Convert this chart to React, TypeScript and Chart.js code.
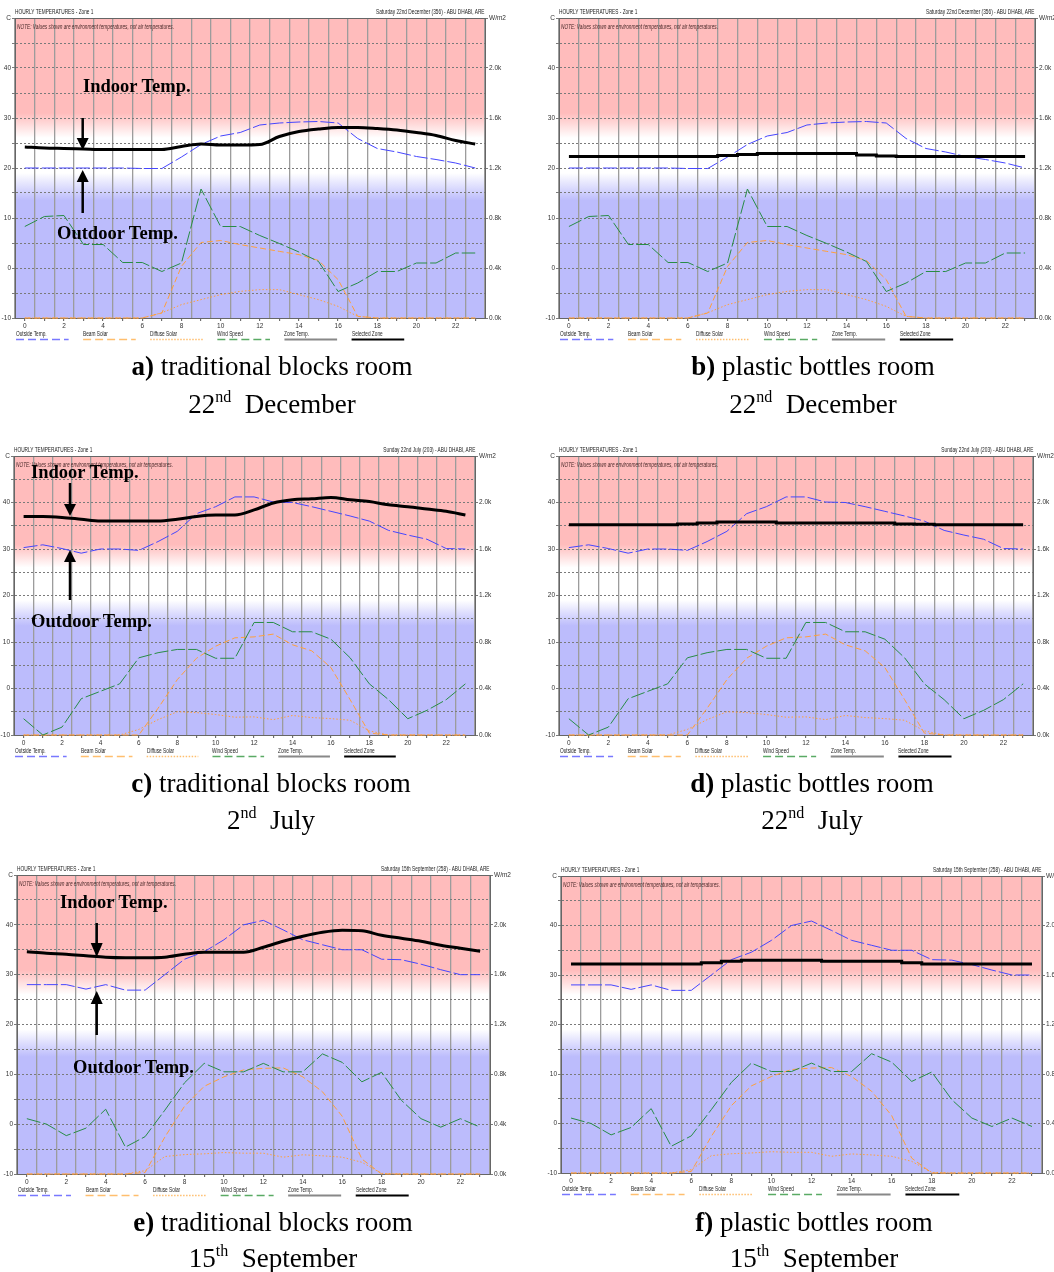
import React, { useEffect, useRef } from 'react';
import { Chart, registerables } from 'chart.js';

Chart.register(...registerables);

// ---------------- data ----------------
const HOURS = [0, 1, 2, 3, 4, 5, 6, 7, 8, 9, 10, 11, 12, 13, 14, 15, 16, 17, 18, 19, 20, 21, 22, 23];
const X_TICK_HOURS = [0, 2, 4, 6, 8, 10, 12, 14, 16, 18, 20, 22];
const TEMP_TICKS = [-10, 0, 10, 20, 30, 40];
const TEMP_UNIT = 'C';
const SOLAR_TICKS = [0, 400, 800, 1200, 1600, 2000];
const SOLAR_UNIT = 'W/m2';
const LEGEND_LABELS = ['Outside Temp.', 'Beam Solar', 'Diffuse Solar', 'Wind Speed', 'Zone Temp.', 'Selected Zone'];
const TITLE = 'HOURLY TEMPERATURES - Zone 1';
const NOTE = 'NOTE: Values shown are environment temperatures, not air temperatures.';

// 22nd December
const DEC_OUTSIDE = [20, 20, 20, 20, 20, 20, 19.9, 19.9, 22.2, 24.7, 26.4, 27.1, 28.6, 29, 29.2, 29.3, 29, 25.9, 23.9, 23.2, 22.3, 21.7, 21, 20];
const DEC_WIND = [8.3, 10.3, 10.5, 4.7, 4.7, 1.1, 1.1, -0.7, 1, 15.8, 8.3, 8.3, 6.5, 4.9, 3.2, 1.3, -4.7, -3, -0.7, -0.7, 1, 1, 3, 3];
const DEC_BEAM = [0, 0, 0, 0, 0, 0, 0, 40, 413, 604, 620, 587, 560, 533, 507, 460, 307, 13, 0, 0, 0, 0, 0, 0];
const DEC_DIFFUSE = [0, 0, 0, 0, 0, 0, 0, 42, 107, 147, 187, 213, 227, 227, 187, 147, 93, 13, 0, 0, 0, 0, 0, 0];
const DEC_ZONE_BLOCKS = [24.2, 24.0, 23.9, 23.8, 23.7, 23.7, 23.7, 23.7, 24.3, 24.8, 24.6, 24.6, 24.7, 26.3, 27.3, 27.8, 28.1, 28.1, 27.9, 27.6, 27.1, 26.5, 25.5, 24.8];
const DEC_ZONE_BOTTLES = [22.3, 22.3, 22.3, 22.3, 22.3, 22.3, 22.3, 22.3, 22.5, 22.7, 22.9, 22.9, 22.9, 22.9, 22.9, 22.6, 22.4, 22.3, 22.3, 22.3, 22.3, 22.3, 22.3, 22.3];

// 22nd July
const JUL_OUTSIDE = [30.3, 30.9, 30.1, 29.1, 30, 30, 29.7, 31.6, 33.8, 37.6, 39.1, 41.2, 41.2, 40.1, 40, 39.1, 38.1, 37.1, 36, 34, 33, 32.1, 30.1, 30];
const JUL_WIND = [-6.5, -10, -8.3, -2.2, -0.6, 1, 6.6, 7.7, 8.4, 8.4, 6.5, 6.5, 14.2, 14.2, 12.2, 12.2, 10.6, 6.6, 1, -2.4, -6.5, -4.7, -2.4, 1];
const JUL_BEAM = [0, 0, 0, 0, 0, 0, 0, 230, 476, 660, 764, 836, 844, 868, 776, 724, 580, 304, 16, 0, 0, 0, 0, 0];
const JUL_DIFFUSE = [0, 0, 0, 0, 0, 0, 48, 132, 200, 193, 176, 153, 156, 132, 168, 150, 141, 127, 35, 0, 0, 0, 0, 0];
const JUL_ZONE_BLOCKS = [37, 37, 36.8, 36.4, 36, 36, 36, 36, 36.4, 37, 37.3, 37.3, 38.4, 39.9, 40.6, 40.8, 41.1, 40.6, 40.2, 39.5, 39.1, 38.6, 38.1, 37.3];
const JUL_ZONE_BOTTLES = [35.2, 35.2, 35.2, 35.2, 35.2, 35.2, 35.4, 35.6, 35.8, 35.8, 35.8, 35.6, 35.6, 35.6, 35.6, 35.6, 35.6, 35.4, 35.3, 35.2, 35.2, 35.2, 35.2, 35.2];

// 15th September
const SEP_OUTSIDE = [28, 28, 28, 27.1, 28, 26.9, 26.9, 30, 33.1, 34.6, 37, 40, 40.9, 39, 37, 36, 35, 35, 33.1, 33, 32.1, 31, 30, 30];
const SEP_WIND = [1.1, 0, -2.3, -0.8, 3, -4.6, -2.5, 2.8, 8.3, 12.2, 10.5, 10.5, 12.2, 10.5, 10.5, 14.1, 12.4, 8.5, 10.4, 4.8, 1.1, -0.6, 1.1, -0.6];
const SEP_BEAM = [0, 0, 0, 0, 0, 0, 12, 296, 544, 704, 780, 836, 848, 852, 780, 660, 464, 120, 0, 0, 0, 0, 0, 0];
const SEP_DIFFUSE = [0, 0, 0, 0, 0, 0, 27, 140, 156, 162, 172, 167, 167, 135, 154, 146, 135, 94, 5, 0, 0, 0, 0, 0];
const SEP_ZONE_BLOCKS = [34.6, 34.3, 34.1, 33.8, 33.5, 33.4, 33.4, 33.5, 34.1, 34.5, 34.5, 34.5, 35.5, 36.7, 37.7, 38.5, 38.9, 38.8, 37.9, 37.3, 36.7, 35.9, 35.3, 34.7];
const SEP_ZONE_BOTTLES = [32.2, 32.2, 32.2, 32.2, 32.2, 32.2, 32.2, 32.5, 32.8, 33, 33, 33, 33, 32.8, 32.8, 32.8, 32.8, 32.5, 32.2, 32.2, 32.2, 32.2, 32.2, 32.2];

// ---------------- styling ----------------
const YW = 14; // left axis width
const Y2W = 30; // right axis width
const PT = 14; // top padding
const XH = 14; // x axis height
const PINK = 'rgb(255,188,188)';
const LAV = 'rgb(188,188,252)';
const OUT_C = 'rgb(70,70,255)';
const WIND_C = 'rgb(40,140,70)';
const SUN_C = 'rgb(255,160,60)';
const TICK_FONT = { family: "'Liberation Sans Narrow','Liberation Sans',Arial,sans-serif", size: 6.5 };
const X_GRID_TICKS: number[] = [];
for (let v = -0.5; v <= 23.5; v += 0.5) X_GRID_TICKS.push(v);

const PANELS = [
  {
    id: 'a', L: 15, T: 18, R: 485, B: 318, date: 'Saturday 22nd December (356) - ABU DHABI, ARE',
    outside: DEC_OUTSIDE, wind: DEC_WIND, beam: DEC_BEAM, diffuse: DEC_DIFFUSE, zone: DEC_ZONE_BLOCKS, stepped: false,
    letter: 'a)', room: ' traditional blocks room', dayNum: '22', daySup: 'nd', month: 'December',
    capX: 272, capY1: 366, capY2: 404,
    ann: { inX: 83, inY: 86, outX: 57, outY: 233, ax: 82.7, dTop: 118, dBase: 138, dTip: 150, uTip: 170, uBase: 182, uBot: 213 },
  },
  {
    id: 'b', L: 559, T: 18, R: 1035, B: 318, date: 'Saturday 22nd December (356) - ABU DHABI, ARE',
    outside: DEC_OUTSIDE, wind: DEC_WIND, beam: DEC_BEAM, diffuse: DEC_DIFFUSE, zone: DEC_ZONE_BOTTLES, stepped: true,
    letter: 'b)', room: ' plastic bottles room', dayNum: '22', daySup: 'nd', month: 'December',
    capX: 813, capY1: 366, capY2: 404, ann: null,
  },
  {
    id: 'c', L: 14, T: 456, R: 475, B: 735, date: 'Sunday 22nd July (203) - ABU DHABI, ARE',
    outside: JUL_OUTSIDE, wind: JUL_WIND, beam: JUL_BEAM, diffuse: JUL_DIFFUSE, zone: JUL_ZONE_BLOCKS, stepped: false,
    letter: 'c)', room: ' traditional blocks room', dayNum: '2', daySup: 'nd', month: 'July',
    capX: 271, capY1: 783, capY2: 820,
    ann: { inX: 31, inY: 472, outX: 31, outY: 621, ax: 70, dTop: 483, dBase: 504, dTip: 516, uTip: 550, uBase: 562, uBot: 600 },
  },
  {
    id: 'd', L: 559, T: 456, R: 1033, B: 735, date: 'Sunday 22nd July (203) - ABU DHABI, ARE',
    outside: JUL_OUTSIDE, wind: JUL_WIND, beam: JUL_BEAM, diffuse: JUL_DIFFUSE, zone: JUL_ZONE_BOTTLES, stepped: true,
    letter: 'd)', room: ' plastic bottles room', dayNum: '22', daySup: 'nd', month: 'July',
    capX: 812, capY1: 783, capY2: 820, ann: null,
  },
  {
    id: 'e', L: 17, T: 875, R: 490, B: 1174, date: 'Saturday 15th September (258) - ABU DHABI, ARE',
    outside: SEP_OUTSIDE, wind: SEP_WIND, beam: SEP_BEAM, diffuse: SEP_DIFFUSE, zone: SEP_ZONE_BLOCKS, stepped: false,
    letter: 'e)', room: ' traditional blocks room', dayNum: '15', daySup: 'th', month: 'September',
    capX: 273, capY1: 1222, capY2: 1258,
    ann: { inX: 60, inY: 902, outX: 73, outY: 1067, ax: 96.7, dTop: 923, dBase: 943, dTip: 957, uTip: 991, uBase: 1004, uBot: 1035 },
  },
  {
    id: 'f', L: 561, T: 876, R: 1042, B: 1173, date: 'Saturday 15th September (258) - ABU DHABI, ARE',
    outside: SEP_OUTSIDE, wind: SEP_WIND, beam: SEP_BEAM, diffuse: SEP_DIFFUSE, zone: SEP_ZONE_BOTTLES, stepped: true,
    letter: 'f)', room: ' plastic bottles room', dayNum: '15', daySup: 'th', month: 'September',
    capX: 814, capY1: 1222, capY2: 1258, ann: null,
  },
];

const LEGEND_STYLES = [
  { color: 'rgb(120,120,255)', dash: '8 4', width: 1.6 },
  { color: 'rgb(255,190,110)', dash: '8 4', width: 1.6 },
  { color: 'rgb(255,190,110)', dash: '1.5 1.5', width: 1.6 },
  { color: 'rgb(90,170,100)', dash: '8 4', width: 1.6 },
  { color: '#888', dash: '', width: 2 },
  { color: '#000', dash: '', width: 2 },
];

const bgPlugin = {
  id: 'ecoBg',
  beforeDraw(chart: any) {
    const { ctx, chartArea: a, scales } = chart;
    const y = scales.y;
    const f = (t: number) => (y.getPixelForValue(t) - a.top) / (a.bottom - a.top);
    const g = ctx.createLinearGradient(0, a.top, 0, a.bottom);
    g.addColorStop(0, PINK);
    g.addColorStop(f(31), PINK);
    g.addColorStop(f(26), '#ffffff');
    g.addColorStop(f(19), '#ffffff');
    g.addColorStop(f(13.5), LAV);
    g.addColorStop(1, LAV);
    ctx.save();
    ctx.fillStyle = g;
    ctx.fillRect(a.left, a.top, a.right - a.left, a.bottom - a.top);
    ctx.restore();
  },
  afterDraw(chart: any) {
    const { ctx, chartArea: a } = chart;
    ctx.save();
    ctx.strokeStyle = '#666';
    ctx.lineWidth = 1;
    ctx.beginPath();
    ctx.moveTo(a.left, a.top + 0.5);
    ctx.lineTo(a.right, a.top + 0.5);
    ctx.stroke();
    ctx.restore();
  },
};

function PanelChart({ p }: { p: any }) {
  const ref = useRef<HTMLCanvasElement | null>(null);
  const W = p.R - p.L;
  const H = p.B - p.T;
  const cw = YW + W + Y2W;
  const ch = PT + H + XH;
  useEffect(() => {
    const canvas = ref.current;
    if (!canvas) return;
    const pts = (arr: number[]) => HOURS.map((h, i) => ({ x: h, y: arr[i] }));
    const chart = new Chart(canvas, {
      type: 'line',
      data: {
        datasets: [
          {
            label: 'Selected Zone', data: pts(p.zone), yAxisID: 'y', borderColor: '#000', borderWidth: 3,
            pointRadius: 0, stepped: p.stepped ? 'middle' : false,
            cubicInterpolationMode: p.stepped ? 'default' : 'monotone', order: 0, clip: 3,
          },
          {
            label: 'Outside Temp.', data: pts(p.outside), yAxisID: 'y', borderColor: OUT_C, borderWidth: 1,
            borderDash: [14, 3], pointRadius: 0, order: 1, clip: 3,
          },
          {
            label: 'Wind Speed', data: pts(p.wind), yAxisID: 'y', borderColor: WIND_C, borderWidth: 1,
            borderDash: [14, 3], pointRadius: 0, order: 2, clip: 3,
          },
          {
            label: 'Beam Solar', data: pts(p.beam), yAxisID: 'y2', borderColor: SUN_C, borderWidth: 1,
            borderDash: [6, 3], pointRadius: 0, order: 3, clip: 3,
          },
          {
            label: 'Diffuse Solar', data: pts(p.diffuse), yAxisID: 'y2', borderColor: SUN_C, borderWidth: 1,
            borderDash: [1.5, 2], pointRadius: 0, order: 4, clip: 3,
          },
        ],
      },
      options: {
        animation: false,
        responsive: false,
        maintainAspectRatio: false,
        devicePixelRatio: 1,
        events: [],
        layout: { padding: { top: PT, left: 0, right: 0, bottom: 0 } },
        plugins: { legend: { display: false }, tooltip: { enabled: false }, title: { display: false } },
        scales: {
          x: {
            type: 'linear', min: -0.5, max: 23.5,
            afterBuildTicks: (s: any) => { s.ticks = X_GRID_TICKS.map((v) => ({ value: v })); },
            afterFit: (s: any) => { s.height = XH; },
            ticks: {
              autoSkip: false, maxRotation: 0, minRotation: 0, padding: 1, color: '#333', font: TICK_FONT,
              callback: (v: any) => (X_TICK_HOURS.includes(v) ? String(v) : ''),
            },
            grid: {
              color: (c: any) => (c.tick && c.tick.value % 1 !== 0 ? '#9c9c9c' : 'rgba(0,0,0,0)'),
              lineWidth: 1.3,
              tickColor: (c: any) => (c.tick && c.tick.value % 1 === 0 ? '#555' : 'rgba(0,0,0,0)'),
              tickLength: 3, tickWidth: 1,
            },
            border: { color: '#666', width: 1 },
          },
          y: {
            position: 'left', min: -10, max: 50,
            afterFit: (s: any) => { s.width = YW; },
            ticks: {
              stepSize: 5, autoSkip: false, padding: 1, color: '#333', font: TICK_FONT,
              callback: (v: any) => (v === 50 ? TEMP_UNIT : TEMP_TICKS.includes(v) ? String(v) : ''),
            },
            grid: { color: '#7a7a7a', lineWidth: 1, tickLength: 3, tickColor: '#7a7a7a' },
            border: { color: '#666', width: 1, dash: [2, 2] },
          },
          y2: {
            position: 'right', min: 0, max: 2400,
            afterFit: (s: any) => { s.width = Y2W; },
            ticks: {
              stepSize: 400, autoSkip: false, padding: 1, color: '#333', font: TICK_FONT,
              callback: (v: any) => (v === 2400 ? SOLAR_UNIT : SOLAR_TICKS.includes(v) ? (v / 1000).toFixed(1) + 'k' : ''),
            },
            grid: { drawOnChartArea: false, tickLength: 3, color: '#7a7a7a' },
            border: { color: '#666', width: 1 },
          },
        },
      } as any,
      plugins: [bgPlugin],
    } as any);
    return () => chart.destroy();
  }, [p]);
  return (
    <canvas
      ref={ref}
      width={cw}
      height={ch}
      style={{ position: 'absolute', left: p.L - YW, top: p.T - PT, width: cw, height: ch }}
    />
  );
}

const smallText = (extra: any) => ({
  position: 'absolute' as const,
  fontFamily: "'Liberation Sans', Arial, sans-serif",
  fontSize: 7,
  lineHeight: '8px',
  whiteSpace: 'nowrap' as const,
  color: '#222',
  transform: 'scaleX(0.68)',
  transformOrigin: 'left center',
  ...extra,
});

const annText = {
  position: 'absolute' as const,
  fontFamily: "'Liberation Serif', 'Times New Roman', serif",
  fontWeight: 700,
  fontSize: 18.5,
  lineHeight: '22px',
  whiteSpace: 'nowrap' as const,
  color: '#000',
};

const capText = {
  position: 'absolute' as const,
  width: 500,
  textAlign: 'center' as const,
  fontFamily: "'Liberation Serif', 'Times New Roman', serif",
  fontSize: 27,
  lineHeight: '30px',
  whiteSpace: 'nowrap' as const,
  color: '#000',
};

function PanelOverlay({ p }: { p: any }) {
  const W = p.R - p.L;
  const step = W * 0.1428;
  const len = W * 0.112;
  return (
    <>
      <div style={smallText({ left: p.L, top: p.T - 10 })}>{TITLE}</div>
      <div style={smallText({ right: 1054 - p.R, top: p.T - 10, transformOrigin: 'right center' })}>{p.date}</div>
      <div style={smallText({ left: p.L + 2, top: p.T + 5, fontStyle: 'italic', color: '#4a2a2a' })}>{NOTE}</div>
      {LEGEND_LABELS.map((lab, i) => (
        <div key={lab} style={smallText({ left: p.L + 1 + i * step, top: p.B + 12 })}>{lab}</div>
      ))}
      <div style={{ ...capText, left: p.capX - 250, top: p.capY1 - 15 }}>
        <b>{p.letter}</b>
        {p.room}
      </div>
      <div style={{ ...capText, left: p.capX - 250, top: p.capY2 - 15 }}>
        {p.dayNum}
        <span style={{ fontSize: 16, position: 'relative', top: -11 }}>{p.daySup}</span>
        {'\u00a0 ' + p.month}
      </div>
      {p.ann && (
        <>
          <div style={{ ...annText, left: p.ann.inX, top: p.ann.inY - 11 }}>Indoor Temp.</div>
          <div style={{ ...annText, left: p.ann.outX, top: p.ann.outY - 11 }}>Outdoor Temp.</div>
        </>
      )}
    </>
  );
}

function Vectors() {
  return (
    <svg
      width={1054}
      height={1272}
      style={{ position: 'absolute', left: 0, top: 0, pointerEvents: 'none' }}
    >
      {PANELS.map((p) => {
        const W = p.R - p.L;
        const step = W * 0.1428;
        const len = W * 0.112;
        const y = p.B + 21.5;
        return (
          <g key={p.id}>
            {LEGEND_STYLES.map((s, i) => {
              const x1 = p.L + 1 + i * step;
              return (
                <line
                  key={i}
                  x1={x1}
                  x2={x1 + len}
                  y1={y}
                  y2={y}
                  stroke={s.color}
                  strokeWidth={s.width}
                  strokeDasharray={s.dash || undefined}
                />
              );
            })}
            {p.ann && (
              <>
                <line x1={p.ann.ax} x2={p.ann.ax} y1={p.ann.dTop} y2={p.ann.dBase + 1} stroke="#000" strokeWidth={2.5} />
                <polygon
                  points={`${p.ann.ax - 6},${p.ann.dBase} ${p.ann.ax + 6},${p.ann.dBase} ${p.ann.ax},${p.ann.dTip}`}
                  fill="#000"
                />
                <line x1={p.ann.ax} x2={p.ann.ax} y1={p.ann.uBase - 1} y2={p.ann.uBot} stroke="#000" strokeWidth={2.5} />
                <polygon
                  points={`${p.ann.ax - 6},${p.ann.uBase} ${p.ann.ax + 6},${p.ann.uBase} ${p.ann.ax},${p.ann.uTip}`}
                  fill="#000"
                />
              </>
            )}
          </g>
        );
      })}
    </svg>
  );
}

export default function App() {
  return (
    <div
      style={{
        position: 'absolute',
        left: 0,
        top: 0,
        width: 1054,
        height: 1272,
        background: '#fff',
        overflow: 'hidden',
      }}
    >
      {PANELS.map((p) => (
        <PanelChart key={'c' + p.id} p={p} />
      ))}
      {PANELS.map((p) => (
        <PanelOverlay key={'o' + p.id} p={p} />
      ))}
      <Vectors />
    </div>
  );
}
